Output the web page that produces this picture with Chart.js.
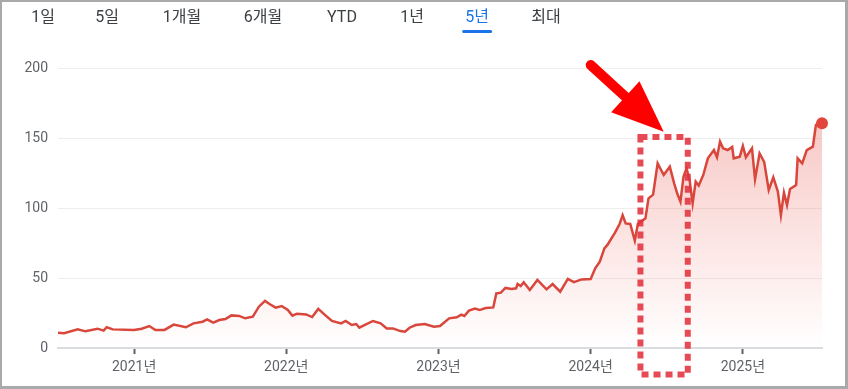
<!DOCTYPE html>
<html lang="ko">
<head>
<meta charset="utf-8">
<script src="https://cdn.jsdelivr.net/npm/chart.js@4"></script>
<style>
  html, body { margin: 0; padding: 0; background: #fff; }
  #wrap { position: relative; width: 848px; height: 389px; overflow: hidden; }
  #chart { position: absolute; left: 0; top: 0; }
  .tabs { position: absolute; left: 0; top: 0; width: 100%; height: 40px;
          font-family: Roboto, "Noto Sans CJK KR", sans-serif; font-size: 16px; color: #3c4043; }
  .tabs span { position: absolute; top: 7px; line-height: 20px; transform: translateX(-50%); white-space: nowrap; }
  .tabs .on { color: #1a73e8; }
  .tabs .on::after { content: ""; position: absolute; left: -3px; right: -3px; bottom: -6px; height: 3px;
                     background: #1a73e8; border-radius: 2px; }
  #frame { position: absolute; left: 0; top: 0; right: 0; bottom: 0; border-style: solid; border-color: #a9a9a9;
           border-width: 2px 3px 3px 2px; pointer-events: none; }
</style>
</head>
<body>
<div id="wrap">
  <canvas id="chart" width="848" height="389"></canvas>
  <div class="tabs" id="tabs"></div>
  <div id="frame"></div>
</div>
<script>
// 기간 탭
const ranges = ["1일", "5일", "1개월", "6개월", "YTD", "1년", "5년", "최대"];
const selectedRange = "5년";
const tabCenters = [43, 107, 182, 263, 342, 412, 477, 546];

// 날짜(연도 소수) / 종가
const dates = [
  2020.50, 2020.54, 2020.63, 2020.68, 2020.76, 2020.80, 2020.82, 2020.86, 2021.00, 2021.05,
  2021.10, 2021.14, 2021.20, 2021.26, 2021.34, 2021.39, 2021.45, 2021.48, 2021.52, 2021.56,
  2021.60, 2021.64, 2021.69, 2021.73, 2021.78, 2021.82, 2021.86, 2021.89, 2021.93, 2021.97,
  2022.01, 2022.04, 2022.07, 2022.13, 2022.17, 2022.21, 2022.25, 2022.30, 2022.36, 2022.39,
  2022.43, 2022.46, 2022.48, 2022.52, 2022.57, 2022.62, 2022.66, 2022.70, 2022.75, 2022.78,
  2022.81, 2022.85, 2022.91, 2022.97, 2023.01, 2023.07, 2023.12, 2023.15, 2023.17, 2023.20,
  2023.24, 2023.27, 2023.31, 2023.36, 2023.38, 2023.41, 2023.44, 2023.48, 2023.51, 2023.52,
  2023.54, 2023.56, 2023.60, 2023.65, 2023.71, 2023.75, 2023.80, 2023.85, 2023.89, 2023.94,
  2024.00, 2024.03, 2024.06, 2024.09, 2024.11, 2024.16, 2024.19, 2024.21, 2024.23, 2024.26,
  2024.29, 2024.31, 2024.36, 2024.38, 2024.41, 2024.44, 2024.48, 2024.52, 2024.55, 2024.57,
  2024.59, 2024.61, 2024.63, 2024.65, 2024.67, 2024.69, 2024.71, 2024.74, 2024.77, 2024.81,
  2024.83, 2024.85, 2024.87, 2024.90, 2024.93, 2024.94, 2024.98, 2025.00, 2025.02, 2025.06,
  2025.08, 2025.11, 2025.14, 2025.17, 2025.20, 2025.23, 2025.25, 2025.27, 2025.29, 2025.31,
  2025.35, 2025.36, 2025.39, 2025.42, 2025.46, 2025.48, 2025.52
];
const prices = [
  10.9, 10.5, 13.3, 11.9, 13.8, 12.4, 14.8, 13.3, 12.9, 13.8,
  15.7, 12.9, 12.9, 16.7, 14.8, 17.6, 18.8, 20.5, 18.1, 20.0,
  20.7, 23.3, 22.9, 21.2, 22.4, 29.5, 33.6, 31.4, 28.8, 30.0,
  27.1, 23.1, 24.5, 24.0, 22.1, 27.9, 24.0, 19.3, 17.6, 19.3,
  16.4, 17.1, 14.5, 16.7, 19.3, 17.6, 14.0, 14.0, 12.1, 11.6,
  14.5, 16.4, 17.1, 15.2, 15.7, 21.2, 21.9, 23.8, 22.9, 26.7,
  28.1, 27.1, 28.6, 29.0, 39.0, 39.5, 42.9, 42.1, 42.6, 45.7,
  44.3, 46.9, 41.4, 48.6, 41.9, 45.7, 40.2, 49.3, 47.1, 49.0,
  49.3, 56.9, 61.7, 71.2, 73.6, 82.4, 88.6, 94.8, 89.0, 88.6,
  76.7, 88.6, 92.6, 106.9, 109.5, 131.9, 123.6, 129.5, 117.1, 110.0,
  104.5, 122.4, 128.3, 120.0, 103.3, 118.8, 116.0, 123.6, 135.5, 141.4,
  136.2, 147.4, 142.6, 141.4, 143.6, 135.5, 136.7, 144.3, 136.2, 142.6,
  120.5, 139.0, 133.0, 112.9, 121.9, 111.7, 95.0, 110.9, 102.1, 113.6,
  116.4, 135.5, 131.9, 141.4, 143.8, 159.3, 160.5
];
const yearTicks = [2021, 2022, 2023, 2024, 2025];
const valueTicks = [0, 50, 100, 150, 200];

// 강조 표시 (연도, 값 좌표)
const boxYears = [2024.327, 2024.638];
const boxValues = [150.7, -18.9];
const arrowFrom = [2024.00, 202.1];
const arrowTo = [2024.48, 154.5];

const tabs = document.getElementById('tabs');
ranges.forEach((r, i) => {
  const s = document.createElement('span');
  s.textContent = r;
  s.style.left = tabCenters[i] + 'px';
  if (r === selectedRange) s.className = 'on';
  tabs.appendChild(s);
});

const tickFont = { family: 'Roboto, "Noto Sans CJK KR", sans-serif', size: 14 };

const marker = {
  id: 'marker',
  afterDraw(chart) {
    const { ctx, scales: { x, y } } = chart;
    const x0 = x.getPixelForValue(boxYears[0]), x1 = x.getPixelForValue(boxYears[1]);
    const y0 = y.getPixelForValue(boxValues[0]), y1 = y.getPixelForValue(boxValues[1]);
    ctx.save();
    ctx.strokeStyle = 'rgba(226,50,62,0.88)';
    ctx.lineWidth = 6;
    ctx.setLineDash([7, 5]);
    ctx.strokeRect(x0, y0, x1 - x0, y1 - y0);

    const ax0 = x.getPixelForValue(arrowFrom[0]), ay0 = y.getPixelForValue(arrowFrom[1]);
    const ax1 = x.getPixelForValue(arrowTo[0]), ay1 = y.getPixelForValue(arrowTo[1]);
    const ang = Math.atan2(ay1 - ay0, ax1 - ax0);
    const headLen = 52, headHalf = 21;
    const bx = ax1 - headLen * Math.cos(ang), by = ay1 - headLen * Math.sin(ang);
    ctx.setLineDash([]);
    ctx.strokeStyle = '#ff0000';
    ctx.fillStyle = '#ff0000';
    ctx.lineWidth = 10;
    ctx.lineCap = 'round';
    ctx.beginPath();
    ctx.moveTo(ax0, ay0);
    ctx.lineTo(bx + 4 * Math.cos(ang), by + 4 * Math.sin(ang));
    ctx.stroke();
    ctx.beginPath();
    ctx.moveTo(ax1, ay1);
    ctx.lineTo(bx + headHalf * Math.sin(ang), by - headHalf * Math.cos(ang));
    ctx.lineTo(bx - headHalf * Math.sin(ang), by + headHalf * Math.cos(ang));
    ctx.closePath();
    ctx.fill();
    ctx.restore();
  }
};

new Chart(document.getElementById('chart'), {
  type: 'line',
  data: {
    datasets: [{
      data: dates.map((d, i) => ({ x: d, y: prices[i] })),
      borderColor: '#d9463b',
      borderWidth: 2.5,
      tension: 0,
      fill: 'origin',
      backgroundColor: ctx => {
        const a = ctx.chart.chartArea;
        if (!a) return 'transparent';
        const g = ctx.chart.ctx.createLinearGradient(0, a.top, 0, a.bottom);
        g.addColorStop(0, 'rgba(230,70,60,0.36)');
        g.addColorStop(1, 'rgba(230,70,60,0)');
        return g;
      },
      pointRadius: ctx => ctx.dataIndex === prices.length - 1 ? 6 : 0,
      pointBackgroundColor: '#e2453b',
      pointBorderWidth: 0,
      clip: { left: 0, top: 10, right: 10, bottom: 0 }
    }]
  },
  options: {
    responsive: false,
    animation: false,
    layout: { padding: { top: 68, right: 26, left: 0, bottom: 0 } },
    scales: {
      x: {
        type: 'linear',
        min: 2020.5,
        max: 2025.52,
        afterBuildTicks: s => { s.ticks = yearTicks.map(v => ({ value: v })); },
        afterFit: s => { s.height = 41; },
        grid: { drawOnChartArea: false, drawTicks: true, tickLength: 6, tickColor: '#5f6368', tickWidth: 2 },
        border: { color: '#dadce0', width: 2 },
        ticks: { font: tickFont, color: '#5f6368', padding: 5, maxRotation: 0, callback: v => v + '년' }
      },
      y: {
        min: 0,
        max: 200,
        afterBuildTicks: s => { s.ticks = valueTicks.map(v => ({ value: v })); },
        afterFit: s => { s.width = 58; },
        grid: { color: '#eeeeee', drawTicks: false },
        border: { display: false },
        ticks: { font: tickFont, color: '#5f6368', padding: 10 }
      }
    },
    plugins: {
      legend: { display: false },
      tooltip: { enabled: false }
    }
  },
  plugins: [marker]
});
</script>
</body>
</html>
